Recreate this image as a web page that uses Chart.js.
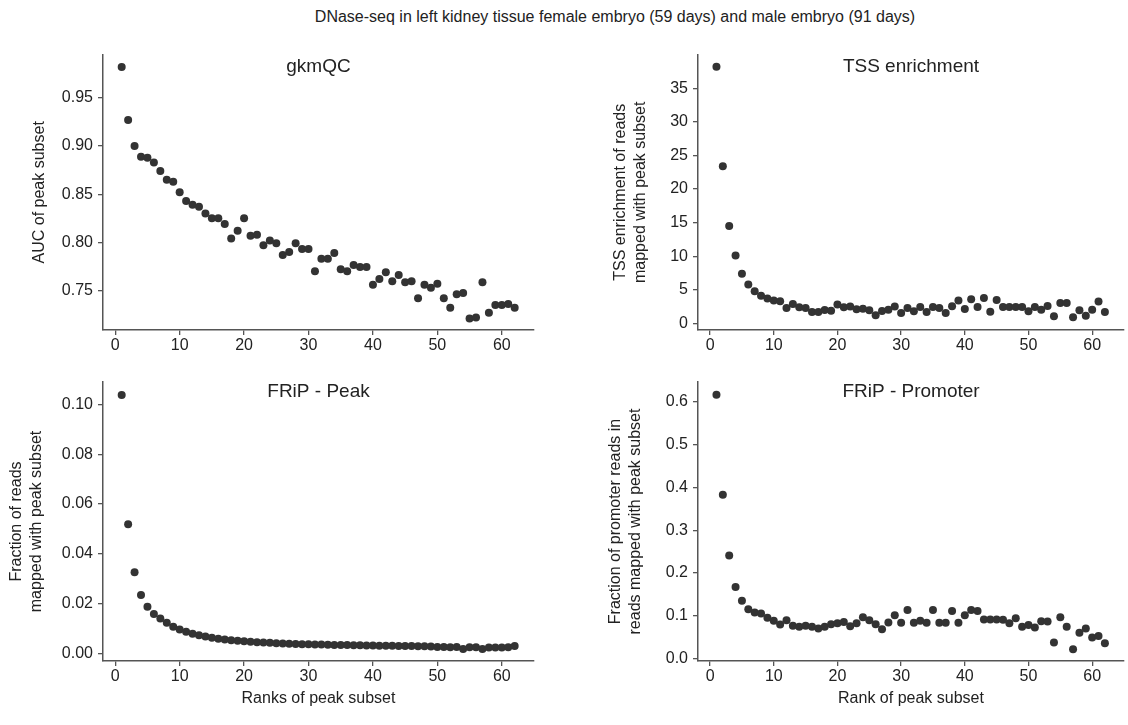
<!DOCTYPE html>
<html>
<head>
<meta charset="utf-8">
<script src="https://cdn.jsdelivr.net/npm/chart.js@4.4.1/dist/chart.umd.min.js"></script>
<style>
  html, body { margin: 0; padding: 0; background: #fff; }
  #page { position: relative; width: 1128px; height: 725px; overflow: hidden; }
  #title {
    position: absolute; left: 0; top: 8px; width: 1230px; text-align: center;
    font: 16px "Liberation Sans", Arial, sans-serif; color: #222;
  }
  .panel { position: absolute; }
</style>
</head>
<body>
<div id="page">
  <div id="title">DNase-seq in left kidney tissue female embryo (59 days) and male embryo (91 days)</div>
  <div class="panel" style="left:0;top:40px"><canvas id="c1" width="564" height="320"></canvas></div>
  <div class="panel" style="left:564px;top:40px"><canvas id="c2" width="564" height="320"></canvas></div>
  <div class="panel" style="left:0;top:360px"><canvas id="c3" width="564" height="365"></canvas></div>
  <div class="panel" style="left:564px;top:360px"><canvas id="c4" width="564" height="365"></canvas></div>
</div>
<script>
// ranks of peak subsets
const ranks = [1,2,3,4,5,6,7,8,9,10,11,12,13,14,15,16,17,18,19,20,21,22,23,24,25,26,27,28,29,30,
  31,32,33,34,35,36,37,38,39,40,41,42,43,44,45,46,47,48,49,50,51,52,53,54,55,56,57,58,59,60,61,62];

const gkmqc = [0.982,0.927,0.900,0.889,0.888,0.883,0.874,0.865,0.863,0.852,
  0.843,0.839,0.837,0.830,0.825,0.825,0.819,0.804,0.812,0.825,
  0.807,0.808,0.797,0.802,0.799,0.787,0.790,0.799,0.793,0.793,
  0.770,0.783,0.783,0.789,0.772,0.770,0.7765,0.7745,0.7745,0.756,
  0.762,0.769,0.7595,0.766,0.7585,0.7595,0.742,0.756,0.753,0.757,
  0.742,0.732,0.746,0.7475,0.721,0.722,0.7585,0.727,0.735,0.735,0.736,0.732];

const tssEnrich = [38.2,23.4,14.5,10.1,7.4,5.8,4.8,4.1,3.7,3.4,
  3.3,2.3,2.9,2.4,2.3,1.7,1.7,2.0,1.9,2.8,
  2.4,2.5,2.1,2.2,1.95,1.2,1.85,2.05,2.5,1.55,
  2.3,1.8,2.45,1.7,2.45,2.3,1.55,2.55,3.4,2.15,
  3.6,2.45,3.8,1.75,3.5,2.45,2.45,2.45,2.45,1.8,
  2.45,2.05,2.6,1.05,3.05,3.05,0.9,1.95,1.15,2.05,3.25,1.7];

const fripPeak = [0.1038,0.0518,0.0326,0.0234,0.0187,0.0158,0.0140,0.0123,0.0107,0.0096,
  0.0087,0.0078,0.0072,0.0067,0.0062,0.0058,0.0055,0.0052,0.0050,0.0048,
  0.0046,0.0044,0.0043,0.0042,0.0040,0.0039,0.0038,0.0037,0.0036,0.0036,
  0.0035,0.0035,0.0034,0.0033,0.0033,0.0033,0.0032,0.0032,0.0031,0.0031,
  0.0030,0.0030,0.0030,0.0029,0.0029,0.0029,0.0028,0.0028,0.0027,0.0025,
  0.0025,0.0024,0.0025,0.0017,0.0024,0.0024,0.0017,0.0023,0.0023,0.0023,0.0024,0.0029];

const fripPromoter = [0.617,0.383,0.241,0.167,0.135,0.115,0.107,0.105,0.095,0.088,
  0.079,0.089,0.076,0.074,0.076,0.074,0.070,0.074,0.080,0.082,
  0.085,0.075,0.082,0.096,0.089,0.080,0.068,0.084,0.101,0.083,
  0.113,0.083,0.088,0.083,0.113,0.083,0.083,0.111,0.083,0.101,
  0.113,0.111,0.091,0.091,0.091,0.090,0.082,0.094,0.074,0.078,
  0.072,0.087,0.086,0.037,0.096,0.074,0.021,0.060,0.070,0.049,0.052,0.035];

const xTicks = [0,10,20,30,40,50,60];
const gkmTicks = [0.75,0.80,0.85,0.90,0.95];
const tssTicks = [0,5,10,15,20,25,30,35];
const peakTicks = [0.00,0.02,0.04,0.06,0.08,0.10];
const promTicks = [0.0,0.1,0.2,0.3,0.4,0.5,0.6];

const FONT = '"Liberation Sans", Arial, sans-serif';
const AXIS = '#555';
const TEXT = '#222';

// subplot title drawn inside the plot area
const panelTitle = {
  id: 'panelTitle',
  afterDraw(chart, args, opts) {
    const { ctx, chartArea } = chart;
    ctx.save();
    ctx.font = '19px ' + FONT;
    ctx.fillStyle = TEXT;
    ctx.textAlign = 'center';
    ctx.textBaseline = 'middle';
    ctx.fillText(opts.text, (chartArea.left + chartArea.right) / 2, chartArea.top + opts.offset);
    ctx.restore();
  }
};

function makePanel(id, p) {
  const pts = ranks.map((r, i) => ({ x: r, y: p.values[i] }));
  new Chart(document.getElementById(id), {
    type: 'scatter',
    data: { datasets: [{ data: pts, backgroundColor: '#333', borderWidth: 0, pointRadius: 4, pointHoverRadius: 4 }] },
    plugins: [panelTitle],
    options: {
      responsive: false,
      animation: false,
      layout: { padding: { top: p.padTop, right: p.padRight, left: 0, bottom: 0 } },
      plugins: {
        legend: { display: false },
        tooltip: { enabled: false },
        panelTitle: { text: p.title, offset: p.titleOffset }
      },
      scales: {
        x: {
          type: 'linear', min: -1.9, max: 65,
          afterBuildTicks: s => { s.ticks = xTicks.map(v => ({ value: v })); },
          afterFit: s => { s.height = p.xHeight; },
          grid: { display: true, drawOnChartArea: false, drawTicks: true, tickLength: 5, color: AXIS, lineWidth: 1.3 },
          border: { display: true, color: AXIS, width: 1.5 },
          ticks: { color: TEXT, font: { family: FONT, size: 16 }, padding: 1, maxRotation: 0 },
          title: p.xTitle ? { display: true, text: p.xTitle, color: TEXT, font: { family: FONT, size: 16 }, padding: { bottom: 17, top: 0 } } : { display: false }
        },
        y: {
          min: p.yMin, max: p.yMax,
          afterBuildTicks: s => { s.ticks = p.ticks.map(v => ({ value: v })); },
          afterFit: s => { s.width = p.yWidth; },
          grid: { display: true, drawOnChartArea: false, drawTicks: true, tickLength: 5, color: AXIS, lineWidth: 1.3 },
          border: { display: true, color: AXIS, width: 1.5 },
          ticks: { color: TEXT, font: { family: FONT, size: 16 }, padding: 5, callback: v => v.toFixed(p.dec) },
          title: { display: true, text: p.yTitle, color: TEXT, font: { family: FONT, size: 16, lineHeight: 1.25 }, padding: { top: p.yTitlePad, bottom: 0 } }
        }
      }
    }
  });
}

makePanel('c1', { values: gkmqc, ticks: gkmTicks, dec: 2, yMin: 0.709, yMax: 0.995,
  title: 'gkmQC', titleOffset: 12, yTitle: 'AUC of peak subset', yTitlePad: 30,
  padTop: 10, padRight: 30, xHeight: 30, yWidth: 103 });

makePanel('c2', { values: tssEnrich, ticks: tssTicks, dec: 0, yMin: -0.98, yMax: 40,
  title: 'TSS enrichment', titleOffset: 12, yTitle: ['TSS enrichment of reads', 'mapped with peak subset'], yTitlePad: 47,
  padTop: 10, padRight: 1, xHeight: 30, yWidth: 134 });

makePanel('c3', { values: fripPeak, ticks: peakTicks, dec: 2, yMin: -0.0031, yMax: 0.109,
  title: 'FRiP - Peak', titleOffset: 10, yTitle: ['Fraction of reads', 'mapped with peak subset'], yTitlePad: 7,
  padTop: 22, padRight: 30, xHeight: 64, yWidth: 103, xTitle: 'Ranks of peak subset' });

makePanel('c4', { values: fripPromoter, ticks: promTicks, dec: 1, yMin: -0.0063, yMax: 0.647,
  title: 'FRiP - Promoter', titleOffset: 10, yTitle: ['Fraction of promoter reads in', 'reads mapped with peak subset'], yTitlePad: 42,
  padTop: 22, padRight: 1, xHeight: 64, yWidth: 134, xTitle: 'Rank of peak subset' });
</script>
</body>
</html>
